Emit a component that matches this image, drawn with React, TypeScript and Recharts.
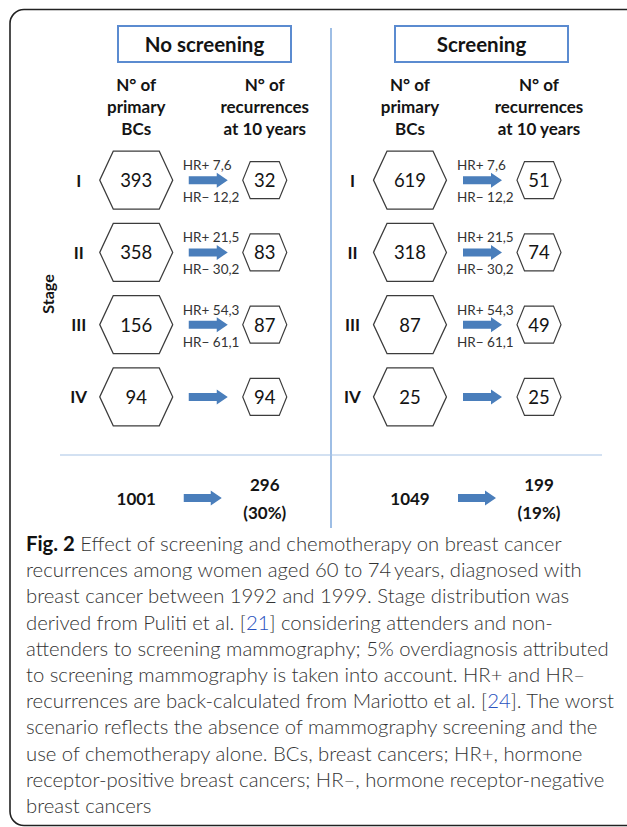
import React from 'react';
import { ScatterChart, Scatter, XAxis, YAxis } from 'recharts';

// ---------- data ----------
const panels = ['No screening', 'Screening'];
const stages = ['I', 'II', 'III', 'IV'];
const columns = ['primary', 'recurrences'];
const columnHeaders = [
  ['N° of', 'primary', 'BCs'],
  ['N° of', 'recurrences', 'at 10 years'],
];
const noScreeningPrimary = [393, 358, 156, 94];
const noScreeningRecurrences = [32, 83, 87, 94];
const screeningPrimary = [619, 318, 87, 25];
const screeningRecurrences = [51, 74, 49, 25];
const hrPositive = ['7,6', '21,5', '54,3', ''];
const hrNegative = ['12,2', '30,2', '61,1', ''];
const totalRow = ['Total'];
const totalPrimary = [1001, 1049];
const totalRecurrences = [296, 199];
const totalPercent = ['30%', '19%'];

const captionLines: { t: string; b?: boolean; link?: boolean }[][] = [
  [{ t: 'Fig. 2', b: true }, { t: ' Effect of screening and chemotherapy on breast cancer' }],
  [{ t: 'recurrences among women aged 60 to 74\u2009years, diagnosed with' }],
  [{ t: 'breast cancer between 1992 and 1999. Stage distribution was' }],
  [{ t: 'derived from Puliti et al. [' }, { t: '21', link: true }, { t: '] considering attenders and non-' }],
  [{ t: 'attenders to screening mammography; 5% overdiagnosis attributed' }],
  [{ t: 'to screening mammography is taken into account. HR+ and HR\u2013' }],
  [{ t: 'recurrences are back-calculated from Mariotto et al. [' }, { t: '24', link: true }, { t: ']. The worst' }],
  [{ t: 'scenario reflects the absence of mammography screening and the' }],
  [{ t: 'use of chemotherapy alone. BCs, breast cancers; HR+, hormone' }],
  [{ t: 'receptor-positive breast cancers; HR\u2013, hormone receptor-negative' }],
  [{ t: 'breast cancers' }],
];

// ---------- derived tables ----------
const primaryRows = (vals: number[]) =>
  stages.map((stage, i) => ({ col: columns[0], stage, value: vals[i] }));
const recurrenceRows = (vals: number[]) =>
  stages.map((stage, i) => ({
    col: columns[1],
    stage,
    value: vals[i],
    hrPlus: hrPositive[i],
    hrMinus: hrNegative[i],
  }));
const totalRows = (p: number) => [
  { col: columns[0], row: totalRow[0], value: totalPrimary[p] },
  { col: columns[1], row: totalRow[0], value: totalRecurrences[p], pct: totalPercent[p] },
];

// ---------- styles ----------
const FONT = 'Lato, "Open Sans", "DejaVu Sans", sans-serif';
const TXT = '#141414';
const HEX_STROKE = '#3c3c3c';
const ARROW = '#4a7ebb';

const hexPoints = (cx: number, cy: number, hw: number, hh: number, inset: number) =>
  [
    [cx - hw, cy],
    [cx - hw + inset, cy - hh],
    [cx + hw - inset, cy - hh],
    [cx + hw, cy],
    [cx + hw - inset, cy + hh],
    [cx - hw + inset, cy + hh],
  ]
    .map((p) => p.join(','))
    .join(' ');

const arrowPath = (x0: number, x1: number, cy: number) => {
  const head = 11;
  return `M${x0},${cy - 4} L${x1 - head},${cy - 4} L${x1 - head},${cy - 7.5} L${x1},${cy} L${x1 - head},${cy + 7.5} L${x1 - head},${cy + 4} L${x0},${cy + 4} Z`;
};

const PrimaryShape = (props: any) => {
  const { cx, cy, payload } = props;
  return (
    <g>
      <text x={cx - 57.5} y={cy} textAnchor="middle" dominantBaseline="central" fontWeight={700} fontSize={17} fill={TXT} fontFamily={FONT}>
        {payload.stage}
      </text>
      <polygon points={hexPoints(cx, cy, 36.5, 29, 13.5)} fill="#fff" stroke={HEX_STROKE} strokeWidth={1.2} />
      <text x={cx} y={cy} textAnchor="middle" dominantBaseline="central" fontSize={18.5} fill={TXT} fontFamily={FONT}>
        {payload.value}
      </text>
    </g>
  );
};

const RecurrenceShape = (props: any) => {
  const { cx, cy, payload } = props;
  return (
    <g>
      <path d={arrowPath(cx - 76, cx - 37, cy)} fill={ARROW} />
      {payload.hrPlus ? (
        <text x={cx - 82} y={cy - 15} dominantBaseline="central" fontSize={13.5} fill="#333" fontFamily={FONT}>
          {`HR+ ${payload.hrPlus}`}
        </text>
      ) : null}
      {payload.hrMinus ? (
        <text x={cx - 82} y={cy + 17} dominantBaseline="central" fontSize={13.5} fill="#333" fontFamily={FONT}>
          {`HR\u2212 ${payload.hrMinus}`}
        </text>
      ) : null}
      <polygon points={hexPoints(cx, cy, 22, 18.5, 7.5)} fill="#fff" stroke={HEX_STROKE} strokeWidth={1.2} />
      <text x={cx} y={cy} textAnchor="middle" dominantBaseline="central" fontSize={18.5} fill={TXT} fontFamily={FONT}>
        {payload.value}
      </text>
    </g>
  );
};

const TotalShape = (props: any) => {
  const { cx, cy, payload } = props;
  if (payload.col === columns[0]) {
    return (
      <text x={cx} y={cy} textAnchor="middle" dominantBaseline="central" fontWeight={700} fontSize={17} fill={TXT} fontFamily={FONT}>
        {payload.value}
      </text>
    );
  }
  return (
    <g>
      <path d={arrowPath(cx - 81, cx - 43, cy)} fill={ARROW} />
      <text x={cx} y={cy - 14} textAnchor="middle" dominantBaseline="central" fontWeight={700} fontSize={17} fill={TXT} fontFamily={FONT}>
        {payload.value}
      </text>
      <text x={cx} y={cy + 14} textAnchor="middle" dominantBaseline="central" fontWeight={700} fontSize={17} fill={TXT} fontFamily={FONT}>
        {`(${payload.pct})`}
      </text>
    </g>
  );
};

// header text lines are positioned relative to the top of the plot area
const makeHeaderTick = (plotTopOffset: number) => (props: any) => {
  const { x, payload } = props;
  const lines = columnHeaders[columns.indexOf(payload.value)] || [];
  const base = Number(props.y) + plotTopOffset;
  return (
    <g>
      {lines.map((l, i) => (
        <text key={i} x={x} y={base - 60 + i * 22} textAnchor="middle" dominantBaseline="central" fontWeight={700} fontSize={17} fill={TXT} fontFamily={FONT}>
          {l}
        </text>
      ))}
    </g>
  );
};
const HeaderTickNs = makeHeaderTick(0);
const HeaderTickS = makeHeaderTick(1);

const TitleBox = ({ left, text }: { left: number; text: string }) => (
  <div
    style={{
      position: 'absolute',
      left,
      top: 25,
      width: 175,
      height: 38,
      boxSizing: 'border-box',
      border: '2px solid #5b8bd0',
      display: 'flex',
      alignItems: 'center',
      justifyContent: 'center',
      fontFamily: FONT,
      fontWeight: 700,
      fontSize: 20.5,
      color: TXT,
    }}
  >
    {text}
  </div>
);

export default function App() {
  return (
    <div style={{ position: 'absolute', left: 0, top: 0, width: 627, height: 827, background: '#fff', overflow: 'hidden' }}>
      <svg width={627} height={827} style={{ position: 'absolute', left: 0, top: 0 }}>
        <rect x={10} y={9.5} width={640} height={816} rx={14} ry={14} fill="none" stroke="#222" strokeWidth={1.6} />
        <line x1={331} y1={28} x2={331} y2={528} stroke="#7ea8dc" strokeWidth={1.5} />
        <line x1={60} y1={455} x2={602} y2={455} stroke="#a8c3e6" strokeWidth={1.2} />
        <text x={47} y={294} transform="rotate(-90 47 294)" textAnchor="middle" dominantBaseline="central" fontWeight={700} fontSize={16} fill={TXT} fontFamily={FONT}>
          Stage
        </text>
      </svg>

      <TitleBox left={117} text={panels[0]} />
      <TitleBox left={394} text={panels[1]} />

      <div style={{ position: 'absolute', left: 0, top: 0 }}>
        <ScatterChart width={627} height={540} margin={{ top: 142, right: 0, bottom: 14, left: 0 }}>
          <XAxis
            xAxisId="ns"
            dataKey="col"
            type="category"
            allowDuplicatedCategory={false}
            orientation="top"
            height={1}
            axisLine={false}
            tickLine={false}
            tickSize={0}
            tickMargin={0}
            padding={{ left: 72, right: 298 }}
            tick={HeaderTickNs}
            interval={0}
          />
          <XAxis
            xAxisId="s"
            dataKey="col"
            type="category"
            allowDuplicatedCategory={false}
            orientation="top"
            height={1}
            axisLine={false}
            tickLine={false}
            tickSize={0}
            tickMargin={0}
            padding={{ left: 345.5, right: 23.5 }}
            tick={HeaderTickS}
            interval={0}
          />
          <YAxis yAxisId="stages" dataKey="stage" type="category" allowDuplicatedCategory={false} hide reversed padding={{ top: 0, bottom: 93 }} />
          <YAxis yAxisId="tot" dataKey="row" type="category" allowDuplicatedCategory={false} hide padding={{ top: 326, bottom: 0 }} />

          <Scatter xAxisId="ns" yAxisId="stages" data={primaryRows(noScreeningPrimary)} shape={PrimaryShape} isAnimationActive={false} />
          <Scatter xAxisId="ns" yAxisId="stages" data={recurrenceRows(noScreeningRecurrences)} shape={RecurrenceShape} isAnimationActive={false} />
          <Scatter xAxisId="s" yAxisId="stages" data={primaryRows(screeningPrimary)} shape={PrimaryShape} isAnimationActive={false} />
          <Scatter xAxisId="s" yAxisId="stages" data={recurrenceRows(screeningRecurrences)} shape={RecurrenceShape} isAnimationActive={false} />
          <Scatter xAxisId="ns" yAxisId="tot" data={totalRows(0)} shape={TotalShape} isAnimationActive={false} />
          <Scatter xAxisId="s" yAxisId="tot" data={totalRows(1)} shape={TotalShape} isAnimationActive={false} />
        </ScatterChart>
      </div>

      <div
        style={{
          position: 'absolute',
          left: 26,
          top: 530,
          fontFamily: FONT,
          fontWeight: 300,
          fontSize: 20.3,
          color: '#333',
          whiteSpace: 'pre',
        }}
      >
        {captionLines.map((line, i) => (
          <div key={i} style={{ height: 26.2, lineHeight: '26.2px' }}>
            {line.map((seg, j) => (
              <span
                key={j}
                style={{
                  fontWeight: seg.b ? 700 : undefined,
                  color: seg.b ? '#111' : seg.link ? '#2a52be' : undefined,
                }}
              >
                {seg.t}
              </span>
            ))}
          </div>
        ))}
      </div>
    </div>
  );
}
